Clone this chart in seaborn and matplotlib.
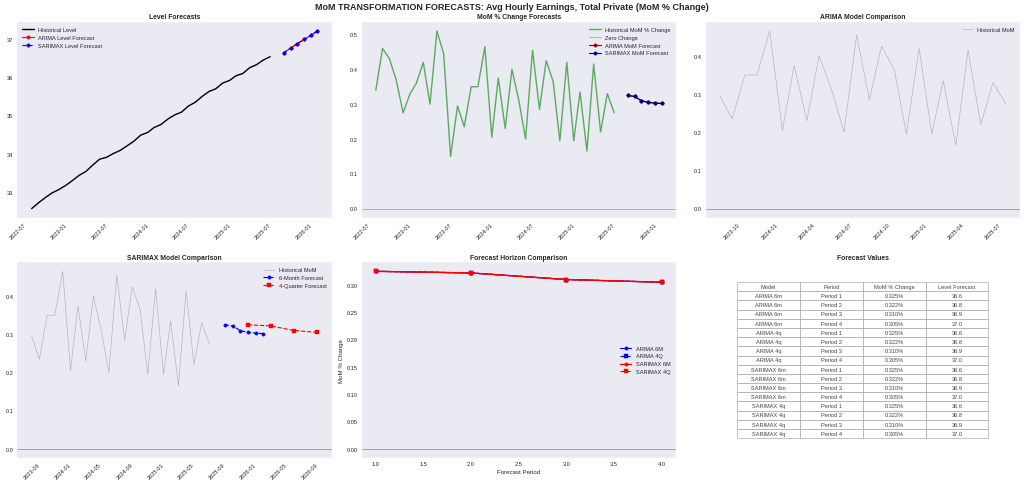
import pandas as pd
import numpy as np
import matplotlib
matplotlib.use('Agg')
import matplotlib.pyplot as plt
import seaborn as sns

sns.set_style('dark')
plt.rcParams['font.family'] = ['Liberation Sans', 'DejaVu Sans']
plt.rcParams['legend.frameon'] = False

# historical data (monthly)
hist_dates = pd.date_range('2022-09-01', periods=36, freq='MS')
hist_level = [32.57, 32.72, 32.86, 32.98, 33.07, 33.18, 33.30, 33.44, 33.54, 33.71,
              33.86, 33.91, 34.01, 34.09, 34.21, 34.33, 34.49, 34.56, 34.69, 34.77,
              34.91, 35.02, 35.09, 35.25, 35.35, 35.50, 35.63, 35.70, 35.85, 35.92,
              36.04, 36.10, 36.25, 36.33, 36.45, 36.54]
hist_mom = [0.340, 0.460, 0.430, 0.370, 0.275, 0.330, 0.360, 0.420, 0.300, 0.510,
            0.445, 0.150, 0.295, 0.235, 0.350, 0.350, 0.465, 0.205, 0.375, 0.230,
            0.400, 0.310, 0.200, 0.455, 0.285, 0.425, 0.365, 0.195, 0.420, 0.195,
            0.335, 0.165, 0.415, 0.220, 0.330, 0.275]

# forecasts
fc_dates_6m = pd.date_range('2025-09-30', periods=6, freq='ME')
fc_dates_4q = pd.date_range('2025-12-31', periods=4, freq='QE')
mom_fc_6m = [0.325, 0.322, 0.310, 0.305, 0.303, 0.302]
mom_fc_4q = [0.325, 0.322, 0.310, 0.305]
level_fc_6m = [36.64, 36.76, 36.88, 36.99, 37.10, 37.21]
level_fc_4q = [36.64, 36.76, 36.88, 36.99]
periods = [1, 2, 3, 4]

fig, axes = plt.subplots(2, 3, figsize=(25.3, 12))
fig.subplots_adjust(left=0.017, right=0.996, top=0.953, bottom=0.056, wspace=0.095, hspace=0.23)
fig.suptitle('MoM TRANSFORMATION FORECASTS: Avg Hourly Earnings, Total Private (MoM % Change)',
             fontsize=16, fontweight='bold', y=0.993)

# 1. level forecasts
ax = axes[0, 0]
sns.lineplot(x=hist_dates, y=hist_level, ax=ax, color='black', linewidth=2.5, label='Historical Level')
sns.lineplot(x=fc_dates_6m, y=level_fc_6m, ax=ax, color='red', marker='o', linewidth=2,
             markeredgecolor='red', label='ARIMA Level Forecast')
sns.lineplot(x=fc_dates_6m, y=level_fc_6m, ax=ax, color='blue', marker='o', linestyle='--',
             linewidth=2, markeredgecolor='blue', label='SARIMAX Level Forecast')
ax.set_title('Level Forecasts', fontsize=12, fontweight='bold')
ax.legend(loc='upper left', fontsize=10)

# 2. mom forecasts
ax = axes[0, 1]
sns.lineplot(x=hist_dates, y=hist_mom, ax=ax, color='green', alpha=0.6, linewidth=2.5,
             label='Historical MoM % Change')
ax.axhline(0, color='red', alpha=0.5, linewidth=1.2, label='Zero Change')
sns.lineplot(x=fc_dates_6m, y=mom_fc_6m, ax=ax, color='darkred', marker='o', linewidth=2,
             markeredgecolor='darkred', label='ARIMA MoM Forecast')
sns.lineplot(x=fc_dates_6m, y=mom_fc_6m, ax=ax, color='navy', marker='o', linewidth=2,
             markeredgecolor='navy', label='SARIMAX MoM Forecast')
ax.set_title('MoM % Change Forecasts', fontsize=12, fontweight='bold')
ax.legend(loc='upper right', fontsize=10)

# 3. arima comparison
ax = axes[0, 2]
sns.lineplot(x=hist_dates[-24:], y=hist_mom[-24:], ax=ax, color='gray', alpha=0.5, linewidth=1.2,
             label='Historical MoM')
ax.axhline(0, color='gray', alpha=0.8, linewidth=1.5)
ax.set_title('ARIMA Model Comparison', fontsize=12, fontweight='bold')
ax.legend(loc='upper right', fontsize=10)

# 4. sarimax comparison
ax = axes[1, 0]
sns.lineplot(x=hist_dates[-24:], y=hist_mom[-24:], ax=ax, color='gray', alpha=0.5, linewidth=1.2,
             label='Historical MoM')
sns.lineplot(x=fc_dates_6m, y=mom_fc_6m, ax=ax, color='blue', marker='o', linestyle='--',
             linewidth=2, markeredgecolor='blue', label='6-Month Forecast')
sns.lineplot(x=fc_dates_4q, y=mom_fc_4q, ax=ax, color='red', marker='s', linestyle='--',
             linewidth=2, markeredgecolor='red', label='4-Quarter Forecast')
ax.axhline(0, color='gray', alpha=0.8, linewidth=1.5)
ax.set_title('SARIMAX Model Comparison', fontsize=12, fontweight='bold')
ax.legend(loc='upper right', fontsize=10)

for a in [axes[0, 0], axes[0, 1], axes[0, 2], axes[1, 0]]:
    a.tick_params(axis='x', rotation=45)
    a.set_xlabel('')
    a.set_ylabel('')

# 5. horizon comparison
ax = axes[1, 1]
sns.lineplot(x=periods, y=mom_fc_6m[:4], ax=ax, color='blue', marker='o', linewidth=2,
             markeredgecolor='blue', label='ARIMA 6M')
sns.lineplot(x=periods, y=mom_fc_4q, ax=ax, color='blue', marker='s', linestyle='--', linewidth=2,
             markeredgecolor='blue', label='ARIMA 4Q')
sns.lineplot(x=periods, y=mom_fc_6m[:4], ax=ax, color='red', marker='o', linewidth=2.5,
             markeredgecolor='red', label='SARIMAX 6M')
sns.lineplot(x=periods, y=mom_fc_4q, ax=ax, color='red', marker='s', linestyle='--', linewidth=2,
             markeredgecolor='red', label='SARIMAX 4Q')
ax.axhline(0, color='gray', alpha=0.8, linewidth=1.5)
ax.set_title('Forecast Horizon Comparison', fontsize=12, fontweight='bold')
ax.set_xlabel('Forecast Period', fontsize=11)
ax.set_ylabel('MoM % Change', fontsize=11)
ax.legend(loc='center right', fontsize=10)

# 6. table
ax = axes[1, 2]
ax.axis('off')
ax.set_title('Forecast Values', fontsize=12, fontweight='bold')
rows = []
for name, moms, lvls in [('ARIMA 6m', mom_fc_6m, level_fc_6m), ('ARIMA 4q', mom_fc_4q, level_fc_4q),
                         ('SARIMAX 6m', mom_fc_6m, level_fc_6m), ('SARIMAX 4q', mom_fc_4q, level_fc_4q)]:
    for i in range(4):
        rows.append([name, f'Period {i + 1}', f'{moms[i]:.3f}%', f'{lvls[i]:.1f}'])
tbl = ax.table(cellText=rows, colLabels=['Model', 'Period', 'MoM % Change', 'Level Forecast'],
               cellLoc='center', loc='center', bbox=[0.1, 0.1, 0.8, 0.8])
tbl.auto_set_font_size(False)
tbl.set_fontsize(10)
for cell in tbl.get_celld().values():
    cell.set_edgecolor('#999999')
    cell.get_text().set_color('#444444')

plt.savefig('out.png', dpi=1024 / 25.3)
